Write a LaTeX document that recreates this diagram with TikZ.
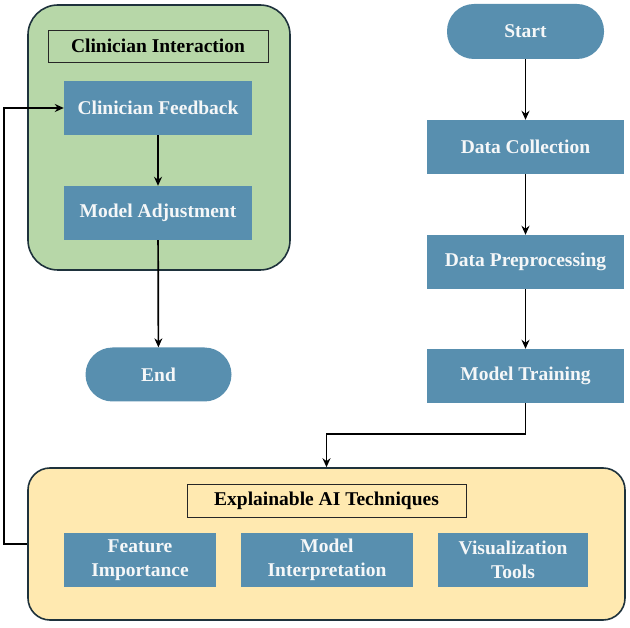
\documentclass[tikz,border=0pt]{standalone}
\usepackage{fontspec}
\setmainfont{Liberation Serif}
\usepackage{tikz}
\usetikzlibrary{
  arrows.meta,
  positioning,
  calc
}
\definecolor{fillGreen}{RGB}{183, 215, 168}
\definecolor{fillYellow}{RGB}{255, 233, 176}
\definecolor{stepblue}{RGB}{88, 143, 175}
\definecolor{edgeclr}{RGB}{30, 50, 60}
\definecolor{txtwhite}{RGB}{245, 247, 248}
\tikzset{
  % Konteynerlar
  contgreen/.style  = {draw=edgeclr, fill=fillGreen, line width=1.6pt, rounded corners=30pt},
  contyellow/.style = {draw=edgeclr, fill=fillYellow, line width=1.6pt, rounded corners=22pt},
  % Sarlavha qutisi
  titlebox/.style   = {draw=black!85, line width=0.8pt, font=\bfseries\fontsize{19.5}{23}\selectfont, text=black},
  % Qadamlar
  stepbox/.style    = {fill=stepblue, draw=none, minimum height=54pt, text=txtwhite,
                       font=\bfseries\fontsize{19.5}{24}\selectfont, align=center},
  pillbox/.style    = {stepbox, rounded corners=27pt},
  % O'qlar
  flowarrow/.style  = {-{Stealth[length=9pt,width=8pt]}, line width=1.7pt, black},
  flowline/.style   = {line width=1.7pt, black},
}
\begin{document}
\begin{tikzpicture}[x=1pt, y=-1pt]
  \useasboundingbox (0,0) rectangle (630,628);
  % Konteynerlar
  \node[contgreen, minimum width=262pt, minimum height=265pt] (clinbox) at (159,137.5) {};
  \node[contyellow, minimum width=597pt, minimum height=152pt] (xaibox) at (326.5,544) {};
  % Sarlavhalar
  \node[titlebox, minimum width=220pt, minimum height=32pt] (clintitle) at (158,46) {Clinician Interaction};
  \node[titlebox, minimum width=279pt, minimum height=33pt] (xaititle) at (326.5,501) {Explainable AI Techniques};
  % Chap ustun
  \node[stepbox, minimum width=188pt] (feedback) at (158,108) {Clinician Feedback};
  \node[stepbox, minimum width=188pt] (adjust) at (158,213) {Model Adjustment};
  \node[pillbox, minimum width=146pt] (end) at (158.5,374.5) {End};
  % O'ng ustun
  \node[pillbox, minimum width=157pt, minimum height=55pt] (start) at (525.5,31.5) {Start};
  \node[stepbox, minimum width=197pt] (collect) at (525.5,147) {Data Collection};
  \node[stepbox, minimum width=197pt] (preproc) at (525.5,262) {Data Preprocessing};
  \node[stepbox, minimum width=197pt] (training) at (525.5,376) {Model Training};
  % XAI usullari
  \node[stepbox, minimum width=152pt] (feature) at (140,560) {Feature\\Importance};
  \node[stepbox, minimum width=172pt] (interp) at (327,560) {Model\\Interpretation};
  \node[stepbox, minimum width=150pt] (visual) at (513,560) {Visualization\\Tools};
  % Bog'lanishlar
  \coordinate (bendA) at (525.5,434);
  \coordinate (loopL) at (4,544);
  \draw[flowarrow] (start) -- (collect);
  \draw[flowarrow] (collect) -- (preproc);
  \draw[flowarrow] (preproc) -- (training);
  \draw[flowline] (training) -- (bendA);
  \draw[flowarrow] (bendA) -| (xaibox);
  \draw[flowarrow] (xaibox.west) -- (loopL) |- (feedback);
  \draw[flowarrow] (feedback) -- (adjust);
  \draw[flowarrow] (adjust) -- (end);
\end{tikzpicture}
\end{document}
